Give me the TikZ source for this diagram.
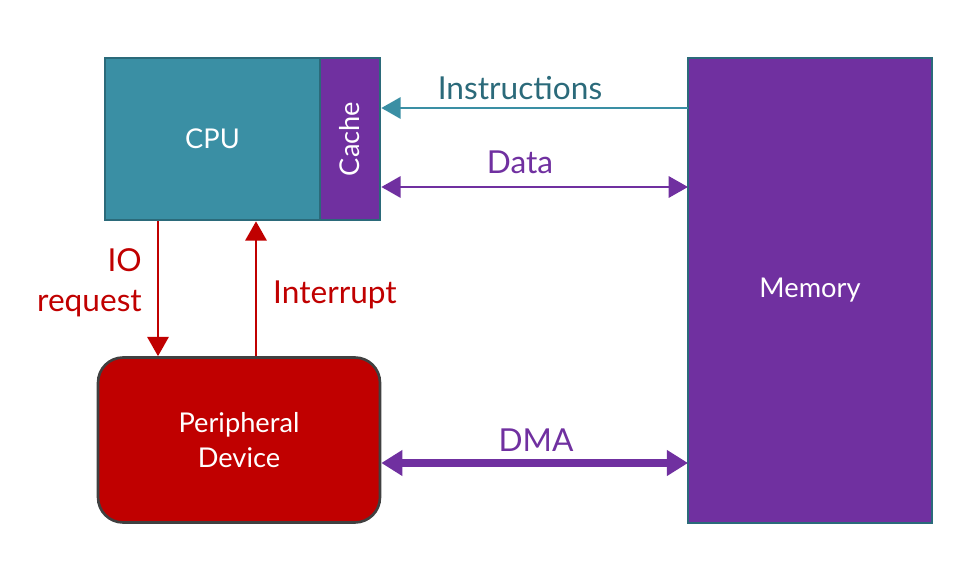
\documentclass[tikz,border=0pt]{standalone}
\usepackage{fontspec}
\setmainfont{Lato}
\usetikzlibrary{arrows.meta}
\definecolor{cputeal}{HTML}{3A8FA4}
\definecolor{tealedge}{HTML}{2B6A7A}
\definecolor{mempurple}{HTML}{7030A0}
\definecolor{devred}{HTML}{C00000}
\definecolor{devedge}{HTML}{404040}
\begin{document}
\begin{tikzpicture}[x=0.02cm, y=0.02cm]
	\tikzset{
		block/.style={draw=tealedge, line width=1.5pt, inner sep=0pt, text=white, font=\fontsize{15.5}{20}\selectfont},
		lbl/.style={font=\fontsize{18}{23}\selectfont},
		thinarr/.style={line width=1.7pt, -{Triangle[length=11pt,width=12pt]}},
		dualarr/.style={line width=1.7pt, {Triangle[length=11pt,width=12pt]}-{Triangle[length=11pt,width=12pt]}},
		dmaarr/.style={line width=4.5pt, {Triangle[length=12pt,width=14pt]}-{Triangle[length=12pt,width=14pt]}}
	}
	\useasboundingbox (0,0) rectangle (976,-587);
	\node[block, fill=cputeal, minimum width=4.3cm, minimum height=3.24cm] (cpu) at (212.5,-139) {CPU};
	\node[block, fill=mempurple, minimum width=1.2cm, minimum height=3.24cm] (cache) at (350,-139) {\rotatebox{90}{Cache}};
	\node[block, fill=mempurple, minimum width=4.88cm, minimum height=9.3cm] (mem) at (810,-290.5) {Memory};
	\node[block, draw=devedge, fill=devred, rounded corners=0.5cm, minimum width=5.64cm, minimum height=3.3cm, align=center] (dev) at (239,-440) {Peripheral\\Device};
	% links cache -- memory
	\coordinate (ins) at (688,-108);
	\coordinate (dat) at (688,-187);
	\coordinate (dma) at (688,-463);
	\draw[thinarr, cputeal] (ins) -- (ins -| cache.east);
	\draw[dualarr, mempurple] (dat -| cache.east) -- (dat);
	\draw[dmaarr, mempurple] (dma -| dev.east) -- (dma);
	\node[lbl, text=tealedge] (insl) at (520,-88) {Instructions};
	\node[lbl, text=mempurple] (datl) at (520,-162) {Data};
	\node[lbl, text=mempurple] (dmal) at (536,-440) {DMA};
	% cpu -- device
	\coordinate (io) at (158,-290);
	\coordinate (irq) at (256,-290);
	\draw[thinarr, devred] (io |- cpu.south) -- (io |- dev.north);
	\draw[thinarr, devred] (irq |- dev.north) -- (irq |- cpu.south);
	\node[lbl, text=devred, align=right, anchor=east] (iol) at (148,-283) {IO\\request};
	\node[lbl, text=devred, anchor=west] (irql) at (267,-295) {Interrupt};
\end{tikzpicture}
\end{document}
